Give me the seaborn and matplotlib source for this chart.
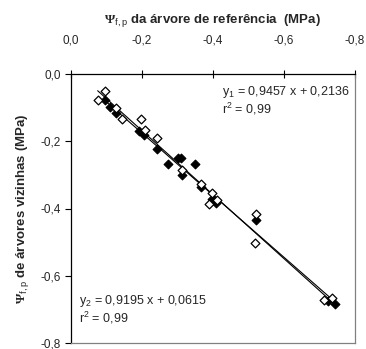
import numpy as np
import pandas as pd
import matplotlib
matplotlib.use('Agg')
import matplotlib.pyplot as plt
import seaborn as sns
from matplotlib.ticker import FuncFormatter

# Psi da arvore de referencia (x) vs arvores vizinhas (y), MPa
x_abertos = [-0.076, -0.097, -0.128, -0.145, -0.198, -0.209, -0.242, -0.313,
             -0.368, -0.398, -0.391, -0.412, -0.521, -0.519, -0.715, -0.736]
y_abertos = [-0.076, -0.051, -0.100, -0.134, -0.134, -0.167, -0.190, -0.285,
             -0.326, -0.353, -0.388, -0.375, -0.417, -0.504, -0.673, -0.665]

x_cheios = [-0.097, -0.111, -0.127, -0.193, -0.206, -0.243, -0.275, -0.302,
            -0.311, -0.315, -0.351, -0.368, -0.398, -0.410, -0.522, -0.724, -0.746]
y_cheios = [-0.076, -0.098, -0.117, -0.171, -0.180, -0.224, -0.269, -0.249,
            -0.249, -0.301, -0.269, -0.336, -0.373, -0.384, -0.435, -0.676, -0.685]

ticks = [0.0, -0.2, -0.4, -0.6, -0.8]
eq1 = [r'y$_\mathsf{1}$ = 0,9457 x + 0,2136', r'r$^\mathsf{2}$ = 0,99']
eq2 = [r'y$_\mathsf{2}$ = 0,9195 x + 0,0615', r'r$^\mathsf{2}$ = 0,99']

df_a = pd.DataFrame({'x': x_abertos, 'y': y_abertos})
df_c = pd.DataFrame({'x': x_cheios, 'y': y_cheios})

sns.set_style('white')
plt.rcParams['font.family'] = ['Liberation Sans', 'DejaVu Sans']
plt.rcParams['mathtext.fontset'] = 'custom'
plt.rcParams['mathtext.rm'] = 'Liberation Serif:bold'
plt.rcParams['mathtext.it'] = 'Liberation Sans'
plt.rcParams['mathtext.sf'] = 'Liberation Sans'

fig = plt.figure(figsize=(3.66, 3.49), dpi=100)
ax = fig.add_axes([70.7 / 366, 1 - 343 / 349, 283.8 / 366, 269 / 349])

# regression lines
line_kws = {'color': 'black', 'lw': 0.8}
sns.regplot(data=df_a, x='x', y='y', ax=ax, scatter=False, ci=None,
            truncate=True, line_kws=line_kws)
sns.regplot(data=df_c, x='x', y='y', ax=ax, scatter=False, ci=None,
            truncate=True, line_kws=line_kws)

sns.scatterplot(data=df_c, x='x', y='y', ax=ax, marker='D', s=20,
                color='black', edgecolor='black', linewidth=0.8, zorder=3)
sns.scatterplot(data=df_a, x='x', y='y', ax=ax, marker='D', s=20,
                color='white', edgecolor='black', linewidth=0.9, zorder=4)

ax.set_xlim(0, -0.8)
ax.set_ylim(-0.8, 0)
ax.set_xticks(ticks)
ax.set_yticks(ticks)
fmt = FuncFormatter(lambda v, p: ('%.1f' % abs(v) if v == 0 else '%.1f' % v).replace('.', ','))
ax.xaxis.set_major_formatter(fmt)
ax.yaxis.set_major_formatter(fmt)
ax.xaxis.tick_top()
ax.xaxis.set_label_position('top')
ax.tick_params(axis='x', direction='inout', length=6, width=0.8, labelsize=8.5,
               pad=17, color='black', top=True, bottom=False)
ax.tick_params(axis='y', direction='out', length=4, width=0.8, labelsize=8.5,
               pad=3, color='black', left=True)

for side in ['top', 'left']:
    ax.spines[side].set_color('black')
    ax.spines[side].set_linewidth(0.9)
for side in ['right', 'bottom']:
    ax.spines[side].set_color('#808080')
    ax.spines[side].set_linewidth(0.9)

ax.set_xlabel(r'$\Psi_\mathsf{f,p}$ da árvore de referência  (MPa)',
              fontsize=9.5, fontweight='bold', labelpad=8)
ax.set_ylabel(r'$\Psi_\mathsf{f,p}$ de árvores vizinhas (MPa)',
              fontsize=9.5, fontweight='bold', labelpad=7)

ax.text(0.533, 0.933, eq1[0], transform=ax.transAxes, fontsize=9, va='center')
ax.text(0.533, 0.870, eq1[1], transform=ax.transAxes, fontsize=9, va='center')
ax.text(0.029, 0.156, eq2[0], transform=ax.transAxes, fontsize=9, va='center')
ax.text(0.029, 0.093, eq2[1], transform=ax.transAxes, fontsize=9, va='center')

fig.savefig('out.png', dpi=100)
